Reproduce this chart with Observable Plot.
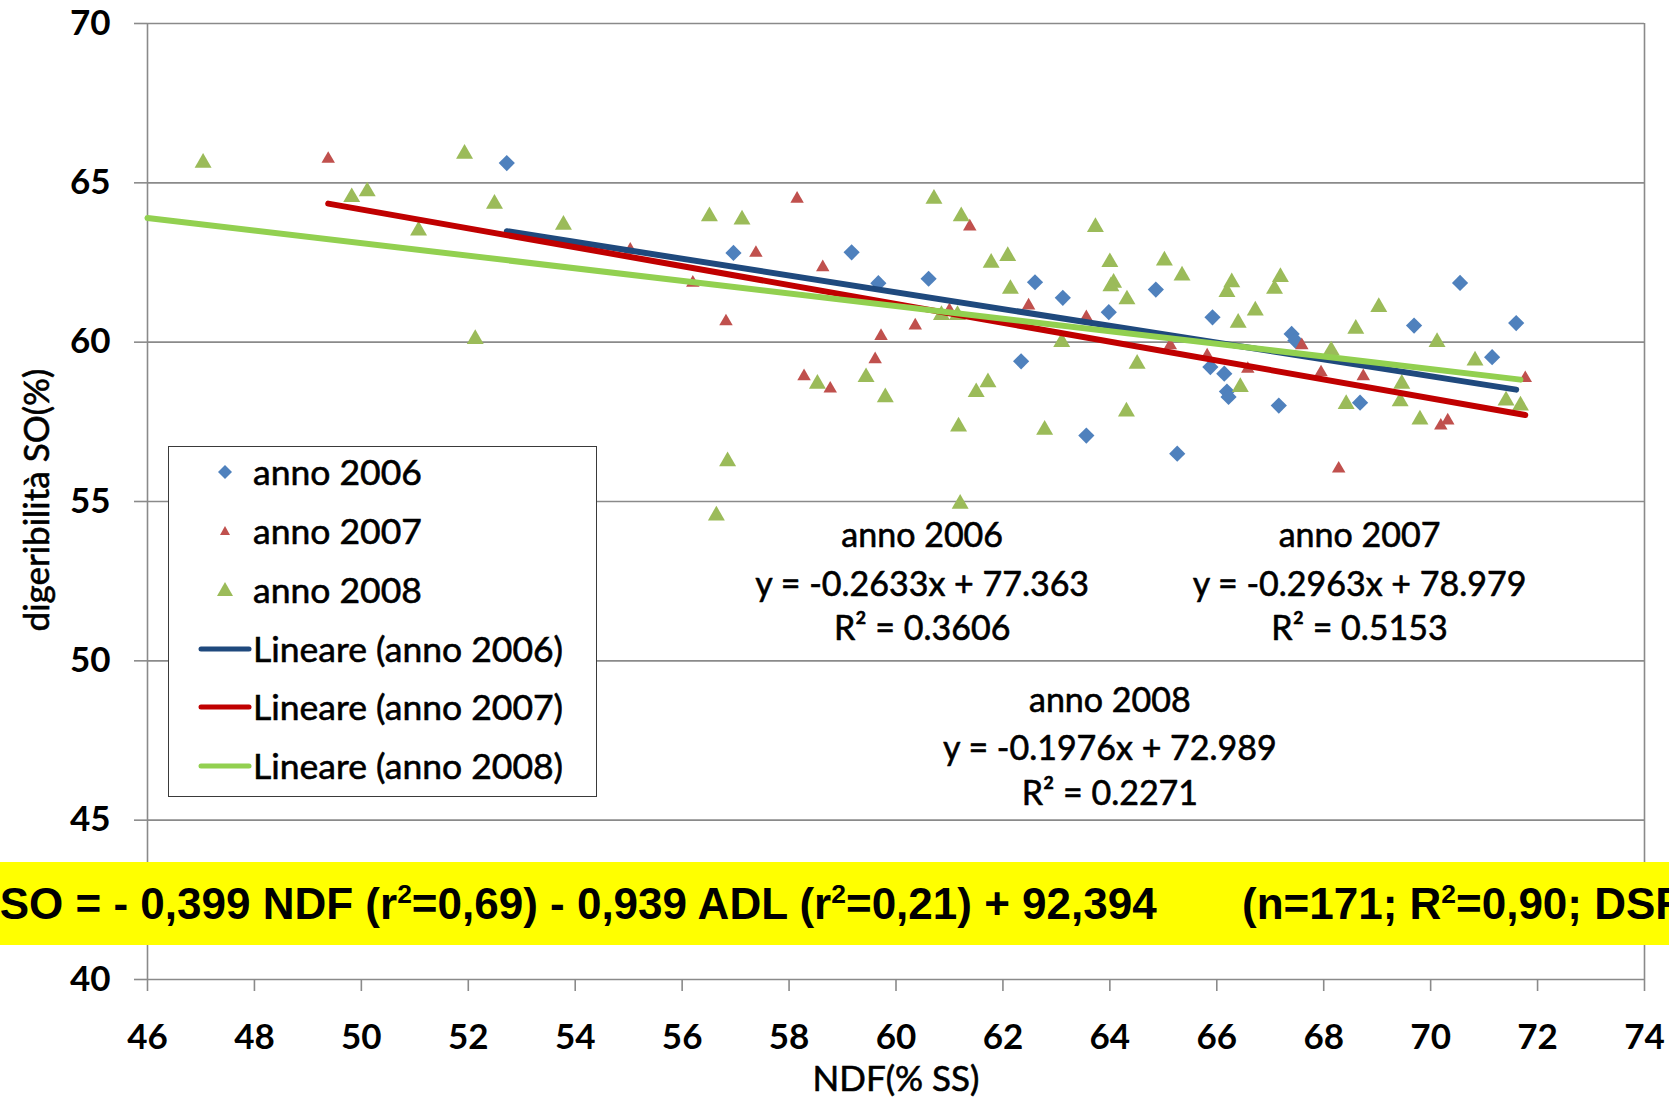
<!DOCTYPE html>
<html>
<head>
<meta charset="utf-8">
<script src="https://cdn.jsdelivr.net/npm/d3@7"></script>
<script src="https://cdn.jsdelivr.net/npm/@observablehq/plot@0.6"></script>
<style>
  body { margin: 0; background: #fff; }
  #wrap { position: relative; width: 1669px; height: 1098px; overflow: hidden; font-family: Lato, "Noto Sans", sans-serif; background: #fff; }
  #wrap > svg { position: absolute; left: 0; top: 0; }
  .banner { position: absolute; left: 0; top: 862px; width: 1669px; height: 83px; background: #ffff00; overflow: hidden;
            font-family: "Liberation Sans", Arial, sans-serif; font-weight: bold; font-size: 44px; color: #000; }
  .banner span.t { position: absolute; top: 0; line-height: 83px; white-space: nowrap; }
  .banner sup { font-size: 0.6em; vertical-align: 0.62em; line-height: 0; }
  .ytitle { position: absolute; left: 35px; top: 500px; transform: translate(-50%, -50%) rotate(-90deg); font-size: 35px; white-space: nowrap; color: #000; -webkit-text-stroke: 0.6px #000; }
  .xtitle { position: absolute; left: 896px; top: 1077px; transform: translate(-50%, -50%); font-size: 35px; white-space: nowrap; color: #000; -webkit-text-stroke: 0.6px #000; }
  .legend { position: absolute; left: 168px; top: 446px; width: 427px; height: 349px; border: 1.5px solid #3a3a3a; background: #fff; }
  .legend .row { position: absolute; left: 0; height: 50px; width: 100%; }
  .legend .row svg { position: absolute; left: 28px; top: 0; }
  .legend .row span { position: absolute; left: 84px; top: 0; line-height: 50px; font-size: 35.5px; color: #000; white-space: nowrap; -webkit-text-stroke: 0.6px #000; }
</style>
</head>
<body>
<div id="wrap"></div>
<script>
// ---------- data ----------
const xTicks = [46, 48, 50, 52, 54, 56, 58, 60, 62, 64, 66, 68, 70, 72, 74];
const yTicks = [40, 45, 50, 55, 60, 65, 70];

const seriesNames = ["anno 2006", "anno 2007", "anno 2008"];

const ndf2006 = [52.72, 56.96, 59.17, 59.67, 60.61, 62.60, 63.12, 63.98, 64.86, 65.92, 62.34, 63.56, 65.26,
                 65.88, 66.14, 66.19, 66.22, 67.16, 67.40, 67.47, 68.68, 69.69, 70.55, 71.15, 71.60];
const dig2006 = [65.62, 62.80, 62.82, 61.85, 61.99, 61.88, 61.39, 60.94, 61.65, 60.78, 59.40, 57.07, 56.50,
                 59.22, 59.01, 58.45, 58.28, 58.01, 60.26, 60.05, 58.10, 60.52, 61.86, 59.53, 60.60];

const ndf2007 = [49.38, 55.03, 56.20, 56.82, 57.38, 58.15, 58.63, 58.28, 58.77, 59.61, 59.72, 60.36, 61.00,
                 61.38, 62.48, 63.56, 65.13, 65.82, 66.58, 67.59, 67.95, 68.28, 68.74, 70.19, 70.32, 71.77];
const dig2007 = [65.75, 62.90, 61.86, 60.65, 62.80, 64.50, 62.35, 58.93, 58.54, 59.46, 60.19, 60.52, 61.00,
                 63.63, 61.15, 60.78, 59.90, 59.58, 59.16, 59.90, 59.05, 56.03, 58.93, 57.38, 57.54, 58.87];

const ndf2008 = [47.04, 49.82, 50.11, 51.07, 51.93, 52.13, 52.49, 53.78, 56.51, 57.12, 56.85, 56.64, 58.53,
                 59.44, 59.80, 60.71, 61.22, 60.85, 61.15, 61.78, 62.09, 62.14, 61.72, 61.50, 61.17, 61.20,
                 62.78, 63.10, 63.73, 64.00, 64.07, 64.02, 64.32, 64.31, 64.51, 65.02, 65.35, 66.28, 66.19,
                 66.40, 66.44, 66.72, 67.19, 67.08, 68.14, 68.42, 68.60, 69.03, 69.46, 69.43, 69.80, 70.12,
                 70.83, 71.41, 71.68];
const dig2008 = [65.63, 64.55, 64.73, 63.50, 65.91, 60.10, 64.34, 63.68, 63.95, 63.85, 56.26, 54.56, 58.69,
                 58.90, 58.27, 64.50, 63.95, 60.85, 60.85, 62.49, 62.70, 61.67, 58.74, 58.43, 57.35, 54.93,
                 57.25, 60.00, 63.61, 62.51, 61.86, 61.75, 61.34, 57.82, 59.32, 62.56, 62.09, 61.88, 61.57,
                 60.61, 58.59, 60.99, 62.04, 61.67, 59.74, 58.06, 60.42, 61.10, 58.69, 58.14, 57.57, 60.00,
                 59.42, 58.17, 58.01];

// linear trend lines (equations printed on the chart) and their x extents
const trendSlope = [-0.2633, -0.2963, -0.1976];
const trendIntercept = [77.363, 78.979, 72.989];
const trendXStart = [52.72, 49.38, 46.0];
const trendXEnd = [71.60, 71.77, 71.68];

// equation annotations
const annotText = ["anno 2006", "y = -0.2633x + 77.363", "R² = 0.3606",
                   "anno 2007", "y = -0.2963x + 78.979", "R² = 0.5153",
                   "anno 2008", "y = -0.1976x + 72.989", "R² = 0.2271"];
const annotX = [60.49, 60.49, 60.49, 68.67, 68.67, 68.67, 64.0, 64.0, 64.0];
const annotY = [53.91, 52.38, 50.98, 53.91, 52.38, 50.98, 48.74, 47.23, 45.82];

const legendLabels = ["anno 2006", "anno 2007", "anno 2008",
                      "Lineare (anno 2006)", "Lineare (anno 2007)", "Lineare (anno 2008)"];

const xTitle = "NDF(% SS)";
const yTitle = "digeribilità SO(%)";
const bannerLeft = "DSO = - 0,399 NDF (r<sup>2</sup>=0,69) - 0,939 ADL (r<sup>2</sup>=0,21) + 92,394";
const bannerRight = "(n=171; R<sup>2</sup>=0,90; DSR";

// ---------- styles ----------
const markerColor = ["#4F81BD", "#C0504D", "#9BBB59"];
const lineColor = ["#1F497D", "#C00000", "#92D050"];
const gridColor = "#8a8a8a";

// ---------- build tables ----------
const pts2006 = ndf2006.map((x, i) => ({x, y: dig2006[i]}));
const pts2007 = ndf2007.map((x, i) => ({x, y: dig2007[i]}));
const pts2008 = ndf2008.map((x, i) => ({x, y: dig2008[i]}));
const trends = trendSlope.map((m, i) => ([
  {x: trendXStart[i], y: m * trendXStart[i] + trendIntercept[i]},
  {x: trendXEnd[i], y: m * trendXEnd[i] + trendIntercept[i]}
]));
const annots = annotText.map((t, i) => ({t, x: annotX[i], y: annotY[i]}));

const chart = Plot.plot({
  width: 1669,
  height: 1098,
  marginLeft: 147,
  marginRight: 25,
  marginTop: 23,
  marginBottom: 119,
  x: {domain: [46, 74]},
  y: {domain: [40, 70]},
  style: {fontFamily: "Lato, 'Noto Sans', sans-serif", background: "transparent", overflow: "visible"},
  marks: [
    Plot.ruleY(yTicks, {stroke: gridColor, strokeWidth: 1.6}),
    Plot.ruleX([46, 74], {stroke: gridColor, strokeWidth: 1.6}),
    Plot.axisY({ticks: yTicks, tickSize: 13, tickFormat: () => "", label: null, stroke: gridColor, strokeWidth: 1.6}),
    Plot.axisY({ticks: yTicks, tickSize: 0, tickPadding: 37, label: null, fontSize: 35, fontWeight: "bold", fill: "#000"}),
    Plot.axisX({ticks: xTicks, tickSize: 12, tickFormat: () => "", label: null, stroke: gridColor, strokeWidth: 1.6}),
    Plot.axisX({ticks: xTicks, tickSize: 0, tickPadding: 45, label: null, fontSize: 35, fontWeight: "bold", fill: "#000"}),
    Plot.dot(pts2006, {x: "x", y: "y", symbol: "diamond2", r: 7.3, fill: markerColor[0], stroke: "none"}),
    Plot.dot(pts2007, {x: "x", y: "y", symbol: "triangle", r: 5, fill: markerColor[1], stroke: "none"}),
    Plot.dot(pts2008, {x: "x", y: "y", symbol: "triangle", r: 6.3, fill: markerColor[2], stroke: "none"}),
    ...trends.map((t, i) => Plot.line(t, {x: "x", y: "y", stroke: lineColor[i], strokeWidth: 6, strokeLinecap: "round"})),
    Plot.text(annots, {x: "x", y: "y", text: "t", fontSize: 34, fill: "#000", stroke: "#000", strokeWidth: 0.6, textAnchor: "middle"})
  ]
});

const wrap = document.getElementById("wrap");
wrap.appendChild(chart);

// axis titles
const yt = document.createElement("div"); yt.className = "ytitle"; yt.textContent = yTitle; wrap.appendChild(yt);
const xt = document.createElement("div"); xt.className = "xtitle"; xt.textContent = xTitle; wrap.appendChild(xt);

// legend
const legend = document.createElement("div");
legend.className = "legend";
const rowTops = [0, 59, 118, 177, 235, 294];
legendLabels.forEach((lab, i) => {
  const row = document.createElement("div");
  row.className = "row";
  row.style.top = rowTops[i] + "px";
  let sym = "";
  if (i === 0) sym = `<path d="M28,18 L35,25 L28,32 L21,25 Z" fill="${markerColor[0]}"/>`;
  else if (i === 1) sym = `<path d="M28,20 L33,29 L23,29 Z" fill="${markerColor[1]}"/>`;
  else if (i === 2) sym = `<path d="M28,17 L36,31 L20,31 Z" fill="${markerColor[2]}"/>`;
  else sym = `<line x1="4" y1="25" x2="52" y2="25" stroke="${lineColor[i - 3]}" stroke-width="5" stroke-linecap="round"/>`;
  row.innerHTML = `<svg width="56" height="50" style="position:absolute;left:28px;top:0">${sym}</svg><span>${lab}</span>`;
  legend.appendChild(row);
});
wrap.appendChild(legend);

// yellow banner
const banner = document.createElement("div");
banner.className = "banner";
banner.innerHTML = `<span class="t" style="left:-32px">${bannerLeft}</span><span class="t" style="left:1242px">${bannerRight}</span>`;
wrap.appendChild(banner);
</script>
</body>
</html>
